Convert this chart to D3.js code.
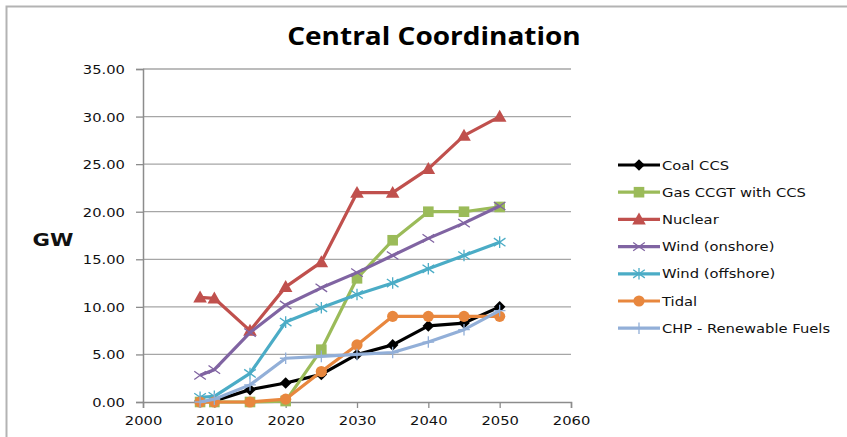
<!DOCTYPE html>
<html>
<head>
<meta charset="utf-8">
<script src="https://cdn.jsdelivr.net/npm/d3@7"></script>
<style>
  html, body { margin: 0; padding: 0; background: #fff; }
  svg { display: block; }
</style>
</head>
<body>
<svg id="chart" width="847" height="437"></svg>
<script>
// Installed capacity (GW) by technology, Central Coordination pathway
const years = [2008, 2010, 2015, 2020, 2025, 2030, 2035, 2040, 2045, 2050];
const coalCCS   = [0, 0.1, 1.3, 2.0, 2.9, 5.0, 6.0, 8.0, 8.3, 10.0];
const gasCCGT   = [0, 0, 0, 0.1, 5.5, 13.0, 17.0, 20.0, 20.0, 20.5];
const nuclear   = [11.0, 10.9, 7.5, 12.1, 14.7, 22.0, 22.0, 24.5, 28.0, 30.0];
const windOn    = [2.8, 3.4, 7.3, 10.2, 12.0, 13.6, 15.4, 17.2, 18.8, 20.6];
const windOff   = [0.5, 0.6, 3.0, 8.4, 9.9, 11.3, 12.5, 14.0, 15.4, 16.8];
const tidal     = [0, 0, 0, 0.3, 3.2, 6.0, 9.0, 9.0, 9.0, 9.0];
const chpRenew  = [0, 0.3, 1.8, 4.6, 4.8, 5.0, 5.2, 6.3, 7.6, 9.6];

const seriesNames = ["Coal CCS", "Gas CCGT with CCS", "Nuclear", "Wind (onshore)",
                     "Wind (offshore)", "Tidal", "CHP - Renewable Fuels"];
const seriesValues = [coalCCS, gasCCGT, nuclear, windOn, windOff, tidal, chpRenew];
const seriesColors = ["#000000", "#9BBB59", "#C0504D", "#8064A2", "#4BACC6", "#E8873E", "#92AFD8"];
const seriesMarkers = ["diamond", "square", "triangle", "x", "asterisk", "circle", "plus"];

const xTicks = [2000, 2010, 2020, 2030, 2040, 2050, 2060];
const yTicks = [0, 5, 10, 15, 20, 25, 30, 35];

const svg = d3.select("#chart");
const textScale = 1.18;
const tickFont = "DejaVu Sans, Verdana, sans-serif";

// chart frame
svg.append("rect")
  .attr("x", 6.5).attr("y", 6.5).attr("width", 900).attr("height", 500)
  .attr("fill", "none").attr("stroke", "#b3b3b3").attr("stroke-width", 2);

const x = d3.scaleLinear().domain([2000, 2060]).range([143, 571]);
const y = d3.scaleLinear().domain([0, 35]).range([402, 69]);

// horizontal gridlines
svg.append("g").selectAll("line").data(yTicks.filter(d => d > 0)).join("line")
  .attr("x1", x(2000)).attr("x2", x(2060))
  .attr("y1", d => y(d)).attr("y2", d => y(d))
  .attr("stroke", "#a6a6a6").attr("stroke-width", 1.3);

// axes
const axisColor = "#8c8c8c";
const yAxis = svg.append("g").attr("transform", `translate(${x(2000)},0)`)
  .call(d3.axisLeft(y).tickValues(yTicks).tickSize(7).tickFormat(d => d.toFixed(2)));
const xAxis = svg.append("g").attr("transform", `translate(0,${y(0)})`)
  .call(d3.axisBottom(x).tickValues(xTicks).tickSize(6).tickFormat(d3.format("d")));

[yAxis, xAxis].forEach(g => {
  g.select(".domain").attr("stroke", axisColor).attr("stroke-width", 1.5);
  g.selectAll(".tick line").attr("stroke", axisColor).attr("stroke-width", 1.3);
  g.selectAll(".tick text").attr("fill", "#111").attr("font-family", tickFont).attr("font-size", 12.5);
});
yAxis.selectAll(".tick text")
  .attr("x", null).attr("dy", null)
  .attr("transform", `translate(-18,4.5) scale(${textScale},1)`);
xAxis.selectAll(".tick text")
  .attr("y", null).attr("dy", null)
  .attr("transform", `translate(0,23) scale(${textScale},1)`);

// axis title
svg.append("text")
  .attr("transform", `translate(32.5,246) scale(1.25,1)`)
  .attr("font-family", tickFont).attr("font-weight", "bold").attr("font-size", 17)
  .attr("fill", "#111").text("GW");

// chart title
svg.append("text")
  .attr("transform", "translate(434,45) scale(1.12,1)").attr("text-anchor", "middle")
  .attr("font-family", "Open Sans, sans-serif").attr("font-weight", "bold").attr("font-size", 25)
  .attr("fill", "#000").text("Central Coordination");

// marker drawing
function drawMarker(g, type, color, cx, cy, s) {
  const k = s || 1;
  if (type === "diamond") {
    const r = 5.8 * k;
    g.append("path").attr("d", `M${cx},${cy - r}L${cx + r},${cy}L${cx},${cy + r}L${cx - r},${cy}Z`).attr("fill", color);
  } else if (type === "square") {
    const r = 5.3 * k;
    g.append("rect").attr("x", cx - r).attr("y", cy - r).attr("width", 2 * r).attr("height", 2 * r).attr("fill", color);
  } else if (type === "triangle") {
    const r = 6.8 * k;
    g.append("path").attr("d", `M${cx},${cy - r}L${cx + r},${cy + r * 0.75}L${cx - r},${cy + r * 0.75}Z`).attr("fill", color);
  } else if (type === "circle") {
    g.append("circle").attr("cx", cx).attr("cy", cy).attr("r", 5.6 * k).attr("fill", color);
  } else if (type === "x") {
    const r = 5.8 * k;
    g.append("path").attr("d", `M${cx - r},${cy - r * 0.7}L${cx + r},${cy + r * 0.7}M${cx - r},${cy + r * 0.7}L${cx + r},${cy - r * 0.7}`)
      .attr("stroke", color).attr("stroke-width", 1.3).attr("fill", "none");
  } else if (type === "asterisk") {
    const r = 5.8 * k;
    g.append("path").attr("d", `M${cx - r},${cy - r * 0.7}L${cx + r},${cy + r * 0.7}M${cx - r},${cy + r * 0.7}L${cx + r},${cy - r * 0.7}M${cx},${cy - r}L${cx},${cy + r}`)
      .attr("stroke", color).attr("stroke-width", 1.3).attr("fill", "none");
  } else if (type === "plus") {
    const r = 5.8 * k;
    g.append("path").attr("d", `M${cx},${cy - r}L${cx},${cy + r}M${cx - r},${cy}L${cx + r},${cy}`)
      .attr("stroke", color).attr("stroke-width", 1.3).attr("fill", "none");
  }
}

// series lines and markers
const line = d3.line().x((d, i) => x(years[i])).y(d => y(d));
seriesValues.forEach((vals, si) => {
  const g = svg.append("g");
  g.append("path").datum(vals).attr("d", line)
    .attr("fill", "none").attr("stroke", seriesColors[si]).attr("stroke-width", 3.2)
    .attr("stroke-linejoin", "round");
  vals.forEach((v, i) => drawMarker(g, seriesMarkers[si], seriesColors[si], x(years[i]), y(v)));
});

// legend
const legend = svg.append("g");
seriesNames.forEach((name, i) => {
  const ly = 165 + i * 27.2;
  const g = legend.append("g");
  g.append("line").attr("x1", 618).attr("x2", 660).attr("y1", ly).attr("y2", ly)
    .attr("stroke", seriesColors[i]).attr("stroke-width", 3.2);
  drawMarker(g, seriesMarkers[i], seriesColors[i], 639, ly);
  g.append("text")
    .attr("transform", `translate(662,${ly + 4.5}) scale(${textScale},1)`)
    .attr("font-family", tickFont).attr("font-size", 12.5).attr("fill", "#111").text(name);
});
</script>
</body>
</html>
